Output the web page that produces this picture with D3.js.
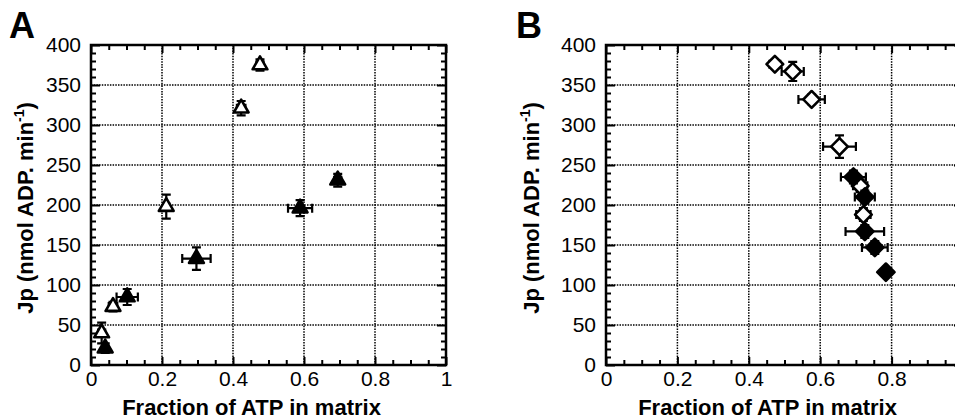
<!DOCTYPE html>
<html lang="en">
<head>
    <meta charset="UTF-8">
    <title>Jp vs fraction of ATP in matrix</title>
    <script src="https://d3js.org/d3.v7.min.js"></script>
    <style>
        body {
            margin: 0;
            overflow: hidden;
            background: #fff;
        }
        svg {
            font-family: "Liberation Sans", Arial, sans-serif;
        }
        .tick text {
            font-size: 21px;
        }
        .grid line {
            stroke: #000;
            stroke-width: 1.5;
            stroke-dasharray: 1.5, 1.2;
        }
        .title {
            font-size: 22px;
            font-weight: bold;
        }
        .panel-letter {
            font-size: 36px;
            font-weight: bold;
        }
    </style>
</head>
<body>
    <svg width="970" height="420"></svg>

    <script>
        // axis ticks
        const xTicks = [0, 0.2, 0.4, 0.6, 0.8, 1];
        const xTickLabels = ["0", "0.2", "0.4", "0.6", "0.8", "1"];
        const yTicks = [0, 50, 100, 150, 200, 250, 300, 350, 400];

        // Panel A - open triangles
        const aOpenX = [0.030, 0.062, 0.212, 0.423, 0.476];
        const aOpenY = [40, 73, 198, 321, 375];
        const aOpenXErr = [0.010, 0.012, 0.008, 0.012, 0.010];
        const aOpenYErr = [13, 6, 15, 9, 7];

        // Panel A - filled triangles
        const aFillX = [0.040, 0.102, 0.297, 0.589, 0.695];
        const aFillY = [21, 85, 133, 196, 231];
        const aFillXErr = [0.008, 0.030, 0.040, 0.034, 0.010];
        const aFillYErr = [6, 10, 14, 10, 8];

        // Panel B - open diamonds
        const bOpenX = [0.473, 0.523, 0.576, 0.654, 0.712, 0.721];
        const bOpenY = [376, 367, 332, 273, 224, 188];
        const bOpenXErr = [0.015, 0.031, 0.037, 0.046, 0.020, 0.020];
        const bOpenYErr = [5, 12, 6, 14, 8, 8];

        // Panel B - filled diamonds
        const bFillX = [0.693, 0.725, 0.725, 0.753, 0.784];
        const bFillY = [235, 210, 167, 147, 116];
        const bFillXErr = [0.035, 0.028, 0.054, 0.036, 0];
        const bFillYErr = [8, 8, 8, 8, 0];

        const svg = d3.select("svg");

        function toPoints(xs, ys, xe, ye) {
            return xs.map((v, i) => ({ x: v, y: ys[i], xe: xe[i], ye: ye[i] }));
        }

        function drawPanel(opts) {
            const { left, right, top, bottom } = opts;
            const g = svg.append("g");

            const x = d3.scaleLinear().domain([0, 1]).range([left, right]);
            const y = d3.scaleLinear().domain([0, 400]).range([bottom, top]);
            const xMinor = d3.range(0, 1.0001, 0.05).filter(v => Math.abs(v * 5 - Math.round(v * 5)) > 1e-6);
            const yMinor = d3.range(0, 401, 10).filter(v => v % 50 !== 0);

            // dotted grid
            const grid = g.append("g").attr("class", "grid");
            grid.selectAll(".gx")
                .data(xTicks.slice(1, -1))
                .enter().append("line")
                .attr("x1", d => x(d)).attr("x2", d => x(d))
                .attr("y1", top).attr("y2", bottom);
            grid.selectAll(".gy")
                .data(yTicks.slice(1, -1))
                .enter().append("line")
                .attr("x1", left).attr("x2", right)
                .attr("y1", d => y(d)).attr("y2", d => y(d));

            // axes, ticks pointing inward on all four sides
            const fmtX = (d, i) => xTickLabels[i];
            g.append("g").attr("transform", `translate(0,${bottom})`)
                .call(d3.axisBottom(x).tickValues(xTicks).tickFormat(fmtX).tickSize(-8).tickPadding(6));
            g.append("g").attr("transform", `translate(0,${bottom})`)
                .call(d3.axisBottom(x).tickValues(xMinor).tickFormat("").tickSize(-5));
            g.append("g").attr("transform", `translate(0,${top})`)
                .call(d3.axisTop(x).tickValues(xTicks).tickFormat("").tickSize(-8));
            g.append("g").attr("transform", `translate(0,${top})`)
                .call(d3.axisTop(x).tickValues(xMinor).tickFormat("").tickSize(-5));

            g.append("g").attr("transform", `translate(${left},0)`)
                .call(d3.axisLeft(y).tickValues(yTicks).tickFormat(d3.format("d")).tickSize(-9).tickPadding(10));
            g.append("g").attr("transform", `translate(${left},0)`)
                .call(d3.axisLeft(y).tickValues(yMinor).tickFormat("").tickSize(-5));
            g.append("g").attr("transform", `translate(${right},0)`)
                .call(d3.axisRight(y).tickValues(yTicks).tickFormat("").tickSize(-9));
            g.append("g").attr("transform", `translate(${right},0)`)
                .call(d3.axisRight(y).tickValues(yMinor).tickFormat("").tickSize(-5));

            g.selectAll(".domain").remove();
            g.selectAll(".tick line").attr("stroke", "#000").attr("stroke-width", 2);
            g.selectAll(".tick text").attr("fill", "#000");

            g.append("rect")
                .attr("x", left).attr("y", top)
                .attr("width", right - left).attr("height", bottom - top)
                .attr("fill", "none")
                .attr("stroke", "#000")
                .attr("stroke-width", 2.5);

            // series: open first, filled on top
            opts.series.forEach(s => {
                const sg = g.append("g");
                const pts = s.points;
                const cap = 4.5;

                // x error bars
                const withX = pts.filter(d => d.xe > 0);
                sg.selectAll(".ex").data(withX).enter().append("path")
                    .attr("d", d => {
                        const x0 = x(d.x - d.xe), x1 = x(d.x + d.xe), yy = y(d.y);
                        return `M${x0},${yy}H${x1}M${x0},${yy - cap}V${yy + cap}M${x1},${yy - cap}V${yy + cap}`;
                    })
                    .attr("stroke", "#000").attr("stroke-width", 2.2).attr("fill", "none");

                // y error bars
                const withY = pts.filter(d => d.ye > 0);
                sg.selectAll(".ey").data(withY).enter().append("path")
                    .attr("d", d => {
                        const y0 = y(d.y - d.ye), y1 = y(d.y + d.ye), xx = x(d.x);
                        return `M${xx},${y0}V${y1}M${xx - cap},${y0}H${xx + cap}M${xx - cap},${y1}H${xx + cap}`;
                    })
                    .attr("stroke", "#000").attr("stroke-width", 2.2).attr("fill", "none");

                sg.selectAll(".pt").data(pts).enter().append("path")
                    .attr("d", d3.symbol().type(s.symbol).size(s.size))
                    .attr("transform", d => `translate(${x(d.x)},${y(d.y)}) rotate(${s.rotate})`)
                    .attr("fill", s.filled ? "#000" : "#fff")
                    .attr("stroke", "#000")
                    .attr("stroke-width", 2.6)
                    .attr("stroke-linejoin", "round");
            });

            // labels
            g.append("text")
                .attr("class", "panel-letter")
                .attr("x", opts.letterX).attr("y", 38)
                .text(opts.letter);

            g.append("text")
                .attr("class", "title")
                .attr("text-anchor", "middle")
                .attr("x", (left + right) / 2 - 17)
                .attr("y", 415)
                .text("Fraction of ATP in matrix");

            const yt = g.append("text")
                .attr("class", "title")
                .attr("text-anchor", "middle")
                .attr("transform", `translate(${opts.yTitleX},${(top + bottom) / 2 + 3}) rotate(-90)`);
            yt.append("tspan").text("Jp (nmol ADP. min");
            yt.append("tspan").attr("dy", -9).attr("font-size", 14).text("-1");
            yt.append("tspan").attr("dy", 9).text(")");
        }

        drawPanel({
            letter: "A", letterX: 9, yTitleX: 33,
            left: 91, right: 446, top: 45, bottom: 365,
            series: [
                { points: toPoints(aOpenX, aOpenY, aOpenXErr, aOpenYErr), symbol: d3.symbolTriangle, size: 95, rotate: 0, filled: false },
                { points: toPoints(aFillX, aFillY, aFillXErr, aFillYErr), symbol: d3.symbolTriangle, size: 95, rotate: 0, filled: true }
            ]
        });

        drawPanel({
            letter: "B", letterX: 516, yTitleX: 539,
            left: 606, right: 963, top: 45, bottom: 365,
            series: [
                { points: toPoints(bOpenX, bOpenY, bOpenXErr, bOpenYErr), symbol: d3.symbolSquare, size: 140, rotate: 45, filled: false },
                { points: toPoints(bFillX, bFillY, bFillXErr, bFillYErr), symbol: d3.symbolSquare, size: 150, rotate: 45, filled: true }
            ]
        });
    </script>
</body>
</html>
